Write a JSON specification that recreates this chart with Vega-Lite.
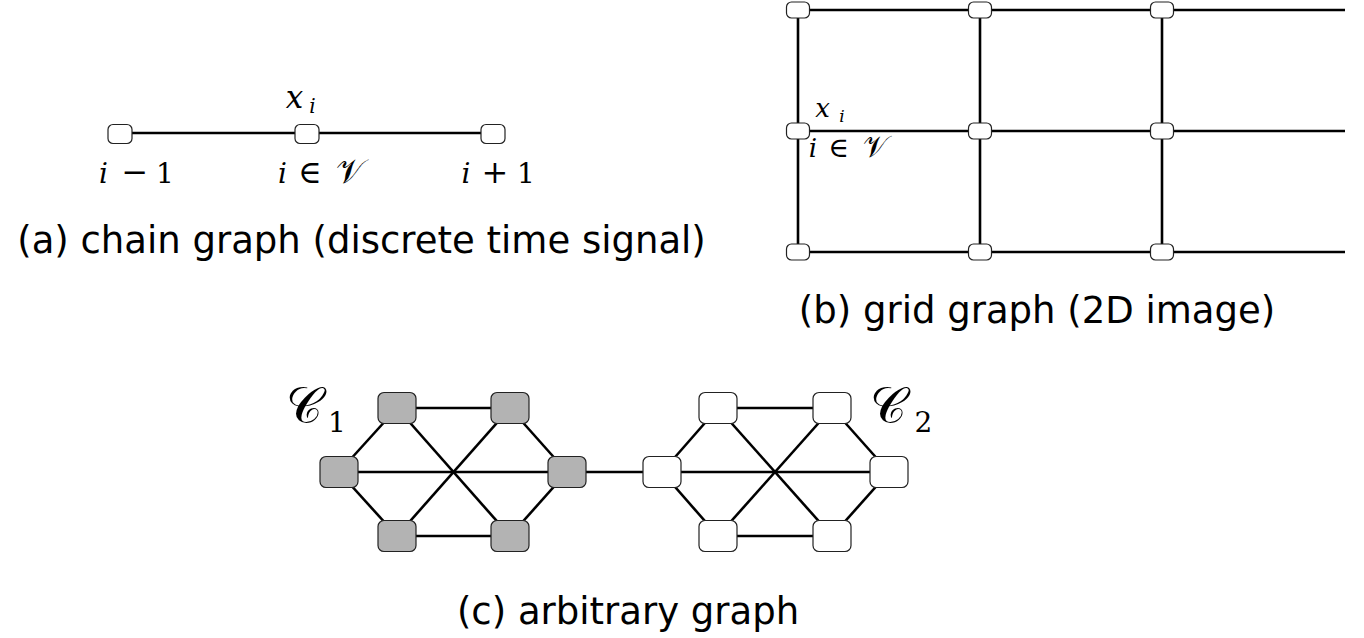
{
  "$schema": "https://vega.github.io/schema/vega-lite/v6.json",
  "width": 1364,
  "height": 638,
  "autosize": {"type": "fit", "contains": "padding"},
  "padding": 0,
  "background": "white",
  "config": {"view": {"stroke": null}},
  "datasets": {
    "edges": [
      {"x": 120, "y": 133, "x2": 307, "y2": 133},
      {"x": 307, "y": 133, "x2": 493, "y2": 133},
      {"x": 798, "y": 10, "x2": 1345, "y2": 10},
      {"x": 798, "y": 131, "x2": 1345, "y2": 131},
      {"x": 798, "y": 252, "x2": 1345, "y2": 252},
      {"x": 798, "y": 10, "x2": 798, "y2": 252},
      {"x": 980, "y": 10, "x2": 980, "y2": 252},
      {"x": 1162, "y": 10, "x2": 1162, "y2": 252},
      {"x": 397, "y": 408, "x2": 510, "y2": 408},
      {"x": 397, "y": 536, "x2": 510, "y2": 536},
      {"x": 339, "y": 472, "x2": 567, "y2": 472},
      {"x": 339, "y": 472, "x2": 397, "y2": 408},
      {"x": 339, "y": 472, "x2": 397, "y2": 536},
      {"x": 567, "y": 472, "x2": 510, "y2": 408},
      {"x": 567, "y": 472, "x2": 510, "y2": 536},
      {"x": 397, "y": 408, "x2": 510, "y2": 536},
      {"x": 510, "y": 408, "x2": 397, "y2": 536},
      {"x": 567, "y": 472, "x2": 662, "y2": 472},
      {"x": 718, "y": 408, "x2": 832, "y2": 408},
      {"x": 718, "y": 536, "x2": 832, "y2": 536},
      {"x": 662, "y": 472, "x2": 889, "y2": 472},
      {"x": 662, "y": 472, "x2": 718, "y2": 408},
      {"x": 662, "y": 472, "x2": 718, "y2": 536},
      {"x": 889, "y": 472, "x2": 832, "y2": 408},
      {"x": 889, "y": 472, "x2": 832, "y2": 536},
      {"x": 718, "y": 408, "x2": 832, "y2": 536},
      {"x": 832, "y": 408, "x2": 718, "y2": 536}
    ],
    "nodes": [
      {"x": 120, "y": 134, "g": "chain"},
      {"x": 307, "y": 134, "g": "chain"},
      {"x": 493, "y": 134, "g": "chain"},
      {"x": 798, "y": 10, "g": "grid"},
      {"x": 980, "y": 10, "g": "grid"},
      {"x": 1162, "y": 10, "g": "grid"},
      {"x": 798, "y": 131, "g": "grid"},
      {"x": 980, "y": 131, "g": "grid"},
      {"x": 1162, "y": 131, "g": "grid"},
      {"x": 798, "y": 252, "g": "grid"},
      {"x": 980, "y": 252, "g": "grid"},
      {"x": 1162, "y": 252, "g": "grid"},
      {"x": 397, "y": 408, "g": "c1"},
      {"x": 510, "y": 408, "g": "c1"},
      {"x": 339, "y": 472, "g": "c1"},
      {"x": 567, "y": 472, "g": "c1"},
      {"x": 397, "y": 536, "g": "c1"},
      {"x": 510, "y": 536, "g": "c1"},
      {"x": 718, "y": 408, "g": "c2"},
      {"x": 832, "y": 408, "g": "c2"},
      {"x": 662, "y": 472, "g": "c2"},
      {"x": 889, "y": 472, "g": "c2"},
      {"x": 718, "y": 536, "g": "c2"},
      {"x": 832, "y": 536, "g": "c2"}
    ],
    "mathItalic": [
      {"t": "x", "x": 294.5, "y": 108, "s": "chainBig"},
      {"t": "i", "x": 312.5, "y": 113, "s": "chainSub"},
      {"t": "i", "x": 103.5, "y": 183, "s": "chain"},
      {"t": "i", "x": 282.5, "y": 183, "s": "chain"},
      {"t": "i", "x": 466, "y": 183, "s": "chain"},
      {"t": "x", "x": 822.5, "y": 117, "s": "gridBig"},
      {"t": "i", "x": 842, "y": 122, "s": "gridSub"},
      {"t": "i", "x": 813, "y": 157, "s": "grid"}
    ],
    "mathRoman": [
      {"t": "−", "x": 135, "y": 183, "s": "chainOp"},
      {"t": "1", "x": 165, "y": 183, "s": "chain"},
      {"t": "∈", "x": 310, "y": 183, "s": "chainOp"},
      {"t": "+", "x": 495, "y": 183, "s": "chainOp"},
      {"t": "1", "x": 526, "y": 183, "s": "chain"},
      {"t": "∈", "x": 838.5, "y": 157, "s": "gridOp"},
      {"t": "1", "x": 337, "y": 432, "s": "clusterSub"},
      {"t": "2", "x": 923.5, "y": 432, "s": "clusterSub"}
    ],
    "mathScript": [
      {"t": "𝒱", "x": 350, "y": 183, "s": "chainScript"},
      {"t": "𝒱", "x": 875, "y": 157, "s": "gridScript"},
      {"t": "𝒞", "x": 304, "y": 423, "s": "cluster"},
      {"t": "𝒞", "x": 888, "y": 423, "s": "cluster"}
    ],
    "captions": [
      {"t": "(a) chain graph (discrete time signal)", "x": 361.5, "y": 253},
      {"t": "(b) grid graph (2D image)", "x": 1037, "y": 323},
      {"t": "(c) arbitrary graph", "x": 628, "y": 624}
    ]
  },
  "layer": [
    {
      "data": {"name": "edges"},
      "mark": {"type": "rule", "color": "#000000", "strokeWidth": 2.6},
      "encoding": {
        "x": {"field": "x", "type": "quantitative", "scale": {"domain": [0, 1364], "nice": false, "zero": false}, "axis": null},
        "y": {"field": "y", "type": "quantitative", "scale": {"domain": [0, 638], "nice": false, "zero": false, "reverse": true}, "axis": null},
        "x2": {"field": "x2"},
        "y2": {"field": "y2"}
      }
    },
    {
      "data": {"name": "nodes"},
      "transform": [{"filter": "datum.g == 'chain'"}],
      "mark": {"type": "rect", "width": 24, "height": 19, "cornerRadius": 5, "fill": "#ffffff", "stroke": "#222222", "strokeWidth": 1.2},
      "encoding": {
        "x": {"field": "x", "type": "quantitative", "scale": {"domain": [0, 1364], "nice": false, "zero": false}, "axis": null},
        "y": {"field": "y", "type": "quantitative", "scale": {"domain": [0, 638], "nice": false, "zero": false, "reverse": true}, "axis": null}
      }
    },
    {
      "data": {"name": "nodes"},
      "transform": [{"filter": "datum.g == 'grid'"}],
      "mark": {"type": "rect", "width": 23, "height": 16, "cornerRadius": 5, "fill": "#ffffff", "stroke": "#222222", "strokeWidth": 1.2},
      "encoding": {
        "x": {"field": "x", "type": "quantitative", "scale": {"domain": [0, 1364], "nice": false, "zero": false}, "axis": null},
        "y": {"field": "y", "type": "quantitative", "scale": {"domain": [0, 638], "nice": false, "zero": false, "reverse": true}, "axis": null}
      }
    },
    {
      "data": {"name": "nodes"},
      "transform": [{"filter": "datum.g == 'c1' || datum.g == 'c2'"}],
      "mark": {"type": "rect", "width": 38, "height": 31, "cornerRadius": 6, "stroke": "#222222", "strokeWidth": 1.2, "opacity": 1},
      "encoding": {
        "x": {"field": "x", "type": "quantitative", "scale": {"domain": [0, 1364], "nice": false, "zero": false}, "axis": null},
        "y": {"field": "y", "type": "quantitative", "scale": {"domain": [0, 638], "nice": false, "zero": false, "reverse": true}, "axis": null},
        "fill": {"field": "g", "type": "nominal", "scale": {"domain": ["c1", "c2"], "range": ["#b3b3b3", "#ffffff"]}, "legend": null}
      }
    },
    {
      "data": {"name": "captions"},
      "mark": {"type": "text", "font": "DejaVu Sans", "fontSize": 37, "align": "center", "baseline": "alphabetic", "color": "#000000"},
      "encoding": {
        "x": {"field": "x", "type": "quantitative", "scale": {"domain": [0, 1364], "nice": false, "zero": false}, "axis": null},
        "y": {"field": "y", "type": "quantitative", "scale": {"domain": [0, 638], "nice": false, "zero": false, "reverse": true}, "axis": null},
        "text": {"field": "t"}
      }
    },
    {
      "data": {"name": "mathItalic"},
      "mark": {"type": "text", "font": "DejaVu Serif", "fontStyle": "italic", "align": "center", "baseline": "alphabetic", "color": "#000000"},
      "encoding": {
        "x": {"field": "x", "type": "quantitative", "scale": {"domain": [0, 1364], "nice": false, "zero": false}, "axis": null},
        "y": {"field": "y", "type": "quantitative", "scale": {"domain": [0, 638], "nice": false, "zero": false, "reverse": true}, "axis": null},
        "text": {"field": "t"},
        "size": {"field": "s", "type": "nominal", "scale": {"type": "ordinal", "domain": ["chainBig", "chainSub", "chain", "chainOp", "chainScript", "gridBig", "gridSub", "grid", "gridOp", "gridScript", "clusterSub", "cluster"], "range": [31, 20, 28, 32, 34, 26, 17, 26, 28, 30, 28, 50]}, "legend": null}
      }
    },
    {
      "data": {"name": "mathRoman"},
      "mark": {"type": "text", "font": "DejaVu Serif", "align": "center", "baseline": "alphabetic", "color": "#000000"},
      "encoding": {
        "x": {"field": "x", "type": "quantitative", "scale": {"domain": [0, 1364], "nice": false, "zero": false}, "axis": null},
        "y": {"field": "y", "type": "quantitative", "scale": {"domain": [0, 638], "nice": false, "zero": false, "reverse": true}, "axis": null},
        "text": {"field": "t"},
        "size": {"field": "s", "type": "nominal", "scale": {"type": "ordinal", "domain": ["chainBig", "chainSub", "chain", "chainOp", "chainScript", "gridBig", "gridSub", "grid", "gridOp", "gridScript", "clusterSub", "cluster"], "range": [31, 20, 28, 32, 34, 26, 17, 26, 28, 30, 28, 50]}, "legend": null}
      }
    },
    {
      "data": {"name": "mathScript"},
      "mark": {"type": "text", "font": "DejaVu Serif", "align": "center", "baseline": "alphabetic", "color": "#000000"},
      "encoding": {
        "x": {"field": "x", "type": "quantitative", "scale": {"domain": [0, 1364], "nice": false, "zero": false}, "axis": null},
        "y": {"field": "y", "type": "quantitative", "scale": {"domain": [0, 638], "nice": false, "zero": false, "reverse": true}, "axis": null},
        "text": {"field": "t"},
        "size": {"field": "s", "type": "nominal", "scale": {"type": "ordinal", "domain": ["chainBig", "chainSub", "chain", "chainOp", "chainScript", "gridBig", "gridSub", "grid", "gridOp", "gridScript", "clusterSub", "cluster"], "range": [31, 20, 28, 32, 34, 26, 17, 26, 28, 30, 28, 50]}, "legend": null}
      }
    }
  ]
}
